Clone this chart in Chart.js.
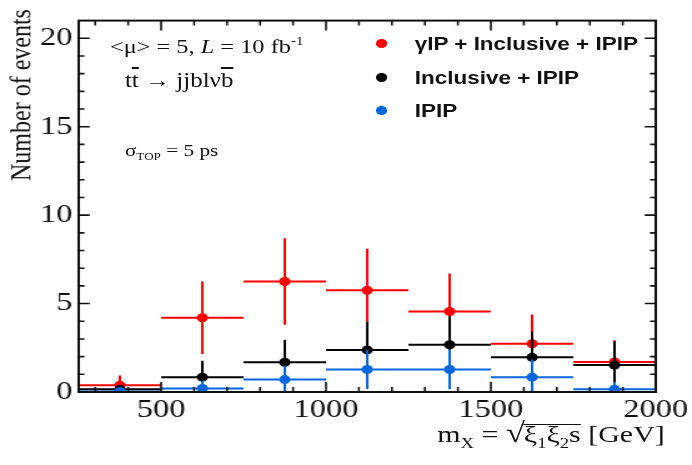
<!DOCTYPE html>
<html>
<head>
<meta charset="utf-8">
<script src="https://cdn.jsdelivr.net/npm/chart.js@4.4.1/dist/chart.umd.min.js"></script>
<style>
  html, body { margin: 0; padding: 0; background: #fff; }
  #wrap {
    position: relative;
    width: 554px;
    height: 465px;
    transform: scaleX(1.249);
    transform-origin: 0 0;
    font-family: "Liberation Serif", serif;
    color: #111;
  }
  #chart { position: absolute; left: 0; top: 0; }
  .note { position: absolute; white-space: nowrap; line-height: 1; }
  .legend { position: absolute; left: 298px; top: 32px; font-family: "Liberation Sans", Arial, sans-serif; font-weight: bold; font-size: 18px; color: #111; }
  .legend div { position: relative; height: 33.5px; padding-left: 34px; line-height: 24px; }
  .legend span.dot { position: absolute; left: 3px; top: 7px; width: 9px; height: 9px; border-radius: 50%; }
  .ytitle { position: absolute; left: 17px; top: 95px; font-size: 24px; white-space: nowrap; transform: translate(-50%, -50%) rotate(-90deg); }
  .xtitle { position: absolute; left: 350px; top: 419px; font-size: 24px; line-height: 1; white-space: nowrap; }
  .rad { display: inline-block; line-height: 0.8; border-top: 1.4px solid #111; margin-left: -1px; }
  sub { font-size: 62%; }
  .ov { text-decoration: overline; }
</style>
</head>
<body>
<div id="wrap">
  <canvas id="chart" width="554" height="465"></canvas>

  <div class="note" style="left:88px; top:35px; font-size:19.5px;">&lt;μ&gt; = 5, <i>L</i> = 10 fb<sup style="font-size:12px;">-1</sup></div>
  <div class="note" style="left:100px; top:70px; font-size:20px;">t<span class="ov">t</span> → jjblν<span class="ov">b</span></div>
  <div class="note" style="left:100px; top:142px; font-size:17px;">σ<sub style="font-size:10.5px;">TOP</sub> = 5 ps</div>

  <div class="legend">
    <div><span class="dot" style="background:#ff0000"></span>γIP + Inclusive + IPIP</div>
    <div><span class="dot" style="background:#000"></span>Inclusive + IPIP</div>
    <div><span class="dot" style="background:#0066dd"></span>IPIP</div>
  </div>

  <div class="ytitle">Number of events</div>
  <div class="xtitle">m<sub>X</sub> = <span style="font-size:28px;">√</span><span class="rad">ξ<sub>1</sub>ξ<sub>2</sub>s</span> [GeV]</div>
</div>

<script>
// mass bins (GeV)
const binEdges = [250, 500, 750, 1000, 1250, 1500, 1750, 2000];
const binCenters = [375, 625, 875, 1125, 1375, 1625, 1875];

// gamma-IP + Inclusive + IPIP
const allEvents = [0.38, 4.2, 6.25, 5.75, 4.55, 2.73, 1.70];
const allErrors = [0.55, 2.05, 2.45, 2.35, 2.15, 1.65, 1.22];

// Inclusive + IPIP
const inclEvents = [0.15, 0.84, 1.68, 2.38, 2.67, 1.96, 1.52];
const inclErrors = [0.25, 0.92, 1.27, 1.58, 1.62, 1.45, 1.35];

// IPIP only
const ipipEvents = [0.03, 0.2, 0.7, 1.27, 1.27, 0.84, 0.16];
const ipipErrors = [0.1, 0.45, 0.8, 1.1, 1.12, 1.0, 0.4];

const xTickLabels = [500, 1000, 1500, 2000];
const yTickLabels = [0, 5, 10, 15, 20];

const RED = "#ff0000";
const BLACK = "#000000";
const BLUE = "#0066dd";

// horizontal bin-width bars, broken with null points
const binBars = (values) => {
    const pts = [];
    values.forEach((v, i) => {
        pts.push({ x: binEdges[i], y: v });
        pts.push({ x: binEdges[i + 1], y: v });
        pts.push({ x: binEdges[i + 1], y: null });
    });
    return pts;
};

// vertical error bars
const errBars = (values, errors) => {
    const pts = [];
    values.forEach((v, i) => {
        pts.push({ x: binCenters[i], y: Math.max(0, v - errors[i]) });
        pts.push({ x: binCenters[i], y: v + errors[i] });
        pts.push({ x: binCenters[i], y: null });
    });
    return pts;
};

const markers = (values) => values.map((v, i) => ({ x: binCenters[i], y: v }));

const series = (values, errors, color, order) => [
    { data: binBars(values), borderColor: color, borderWidth: 2, showLine: true, spanGaps: false, pointRadius: 0, order: order + 2 },
    { data: errBars(values, errors), borderColor: color, borderWidth: 2, showLine: true, spanGaps: false, pointRadius: 0, order: order + 1 },
    { data: markers(values), backgroundColor: color, borderColor: color, pointRadius: 4.5, pointBorderWidth: 0, showLine: false, order: order }
];

// frame with inward ticks on all four sides
const frameTicks = {
    id: "frameTicks",
    afterDatasetsDraw(chart) {
        const { ctx, chartArea: a, scales: { x, y } } = chart;
        ctx.save();
        ctx.strokeStyle = "#111";
        ctx.lineWidth = 2;
        ctx.strokeRect(a.left, a.top, a.right - a.left, a.bottom - a.top);

        ctx.lineWidth = 1.6;
        ctx.beginPath();
        for (let v = 300; v < 2000; v += 100) {
            const px = x.getPixelForValue(v);
            const len = v % 500 === 0 ? 10 : 5;
            ctx.moveTo(px, a.bottom);
            ctx.lineTo(px, a.bottom - len);
            ctx.moveTo(px, a.top);
            ctx.lineTo(px, a.top + len);
        }
        for (let v = 1; v < 21; v++) {
            const py = y.getPixelForValue(v);
            const len = v % 5 === 0 ? 8.8 : 4.6;
            ctx.moveTo(a.left, py);
            ctx.lineTo(a.left + len, py);
            ctx.moveTo(a.right, py);
            ctx.lineTo(a.right - len, py);
        }
        ctx.stroke();
        ctx.restore();
    }
};

new Chart(document.getElementById("chart").getContext("2d"), {
    type: "scatter",
    data: {
        datasets: [
            ...series(allEvents, allErrors, RED, 7),
            ...series(inclEvents, inclErrors, BLACK, 4),
            ...series(ipipEvents, ipipErrors, BLUE, 1)
        ]
    },
    options: {
        responsive: false,
        animation: false,
        devicePixelRatio: 1,
        layout: { padding: { top: 10, right: 28, left: 0, bottom: 0 } },
        plugins: { legend: { display: false }, tooltip: { enabled: false } },
        scales: {
            x: {
                type: "linear",
                min: 250,
                max: 2000,
                afterBuildTicks: (scale) => { scale.ticks = xTickLabels.map(v => ({ value: v })); },
                afterFit: (scale) => { scale.height = 73; },
                grid: { display: false, drawTicks: false },
                border: { display: false },
                ticks: {
                    color: "#111",
                    padding: 3,
                    maxRotation: 0,
                    font: { family: "Liberation Serif", size: 26 },
                    callback: (v) => String(v)
                }
            },
            y: {
                type: "linear",
                min: 0,
                max: 21,
                afterBuildTicks: (scale) => { scale.ticks = yTickLabels.map(v => ({ value: v })); },
                afterFit: (scale) => { scale.width = 63; },
                grid: { display: false, drawTicks: false },
                border: { display: false },
                ticks: { color: "#111", padding: 5, font: { family: "Liberation Serif", size: 26 } }
            }
        }
    },
    plugins: [frameTicks]
});
</script>
</body>
</html>
